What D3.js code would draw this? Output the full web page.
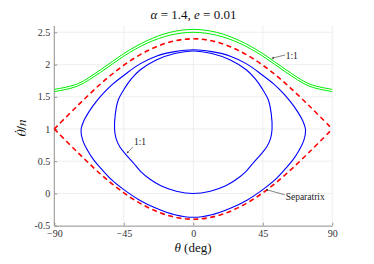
<!DOCTYPE html>
<html><head><meta charset="utf-8">
<script src="https://cdn.jsdelivr.net/npm/d3@7"></script>
<style>body{margin:0;background:#fff}svg{display:block}svg text{font-family:"Liberation Serif","Times New Roman",serif}</style>
</head><body><svg id="c" width="374" height="264"></svg>
<script>
// ---- data ----
const xTicks = [-90, -45, 0, 45, 90];
const yTicks = [-0.5, 0, 0.5, 1, 1.5, 2, 2.5];
const yTickLabels = ["-0.5", "0", "0.5", "1", "1.5", "2", "2.5"];
const theta = [-90, -75, -60, -45, -30, -15, 0, 15, 30, 45, 60, 75, 90];
const sepUpper = [1.0, 1.36, 1.70, 1.99, 2.21, 2.35, 2.40, 2.35, 2.21, 1.99, 1.70, 1.36, 1.0];
const sepLower = [1.0, 0.64, 0.30, 0.01, -0.21, -0.35, -0.40, -0.35, -0.21, 0.01, 0.30, 0.64, 1.0];
const greenUpper = [1.615, 1.70, 1.92, 2.17, 2.37, 2.50, 2.545, 2.50, 2.37, 2.17, 1.92, 1.70, 1.615];
const greenLower = [1.58, 1.665, 1.88, 2.13, 2.33, 2.455, 2.50, 2.455, 2.33, 2.13, 1.88, 1.665, 1.58];
// outer 1:1 libration loop (theta deg, thetaDot/n), clockwise from top
const outerTheta = [0, 12, 24, 34.5, 44, 52, 58, 63, 67.5, 71, 72.7, 71.5, 68.5, 64.5, 59.5, 52.8, 45, 35, 24, 12,
                    0, -12, -24, -35, -45, -52.8, -59.5, -64.5, -68.5, -71.5, -72.7, -71, -67.5, -63, -58, -52, -44, -34.5, -24, -12];
const outerRate  = [2.23, 2.20, 2.13, 2.01, 1.85, 1.70, 1.56, 1.42, 1.27, 1.12, 0.98, 0.82, 0.67, 0.52, 0.38, 0.21, 0.06, -0.10, -0.23, -0.33,
                    -0.37, -0.33, -0.23, -0.10, 0.06, 0.21, 0.38, 0.52, 0.67, 0.82, 0.98, 1.12, 1.27, 1.42, 1.56, 1.70, 1.85, 2.01, 2.13, 2.20];
// inner 1:1 libration loop
const innerTheta = [0, 12, 24, 34.5, 40, 44.5, 48.6, 50.5, 51, 50, 47.5, 43.5, 39, 34, 28, 21, 11,
                    0, -11, -21, -28, -34, -39, -43.5, -47.5, -50, -51, -50.5, -48.6, -44.5, -40, -34.5, -24, -12];
const innerRate  = [2.21, 2.17, 2.07, 1.915, 1.78, 1.63, 1.45, 1.23, 1.0, 0.85, 0.72, 0.60, 0.48, 0.34, 0.22, 0.12, 0.035,
                    0.0, 0.035, 0.12, 0.22, 0.34, 0.48, 0.60, 0.72, 0.85, 1.0, 1.23, 1.45, 1.63, 1.78, 1.915, 2.07, 2.17];

// ---- layout ----
const svg = d3.select("#c");
const x = d3.scaleLinear().domain([-90, 90]).range([54.3, 332.3]);
const y = d3.scaleLinear().domain([-0.5, 2.5]).range([225.7, 32.3]);
const yTop = 2.6;
const serif = '"Liberation Serif","Times New Roman",serif';

// grid
const g = svg.append("g");
g.selectAll(".gx").data(xTicks).join("line")
  .attr("x1", d => x(d)).attr("x2", d => x(d)).attr("y1", y(-0.5)).attr("y2", y(yTop))
  .attr("stroke", "#ebebeb").attr("stroke-width", 0.8);
g.selectAll(".gy").data(yTicks).join("line")
  .attr("x1", x(-90)).attr("x2", x(90)).attr("y1", d => y(d)).attr("y2", d => y(d))
  .attr("stroke", "#ebebeb").attr("stroke-width", 0.8);

// axes
const axCol = "#808080";
const xAxis = d3.axisBottom(x).tickValues(xTicks).tickSizeInner(-3).tickSizeOuter(0).tickPadding(4).tickFormat(d3.format("d"));
const yAxis = d3.axisLeft(y).tickValues(yTicks).tickSizeInner(-3).tickSizeOuter(0).tickPadding(4)
  .tickFormat((d, i) => yTickLabels[i]);
const gx = svg.append("g").attr("transform", `translate(0,${y(-0.5)})`).call(xAxis);
const gy = svg.append("g").attr("transform", `translate(${x(-90)},0)`).call(yAxis);
gy.select(".domain").attr("d", `M0,${y(-0.5)}V${y(yTop)}`);
[gx, gy].forEach(a => {
  a.attr("font-family", serif);
  a.select(".domain").attr("stroke", axCol).attr("stroke-width", 0.8);
  a.selectAll(".tick line").attr("stroke", axCol).attr("stroke-width", 0.8);
  a.selectAll(".tick text").attr("font-family", serif).attr("font-size", 10).attr("fill", "#333");
});

// curves
const lineOpen = d3.line().x(d => x(d[0])).y(d => y(d[1])).curve(d3.curveCatmullRom.alpha(0.5));
const lineClosed = d3.line().x(d => x(d[0])).y(d => y(d[1])).curve(d3.curveCatmullRomClosed.alpha(0.5));
const zip = (a, b) => a.map((v, i) => [v, b[i]]);

const plot = svg.append("g");
[greenUpper, greenLower].forEach(s => {
  plot.append("path").attr("d", lineOpen(zip(theta, s))).attr("fill", "none")
    .attr("stroke", "#00ee00").attr("stroke-width", 1);
});
plot.append("path").attr("d", lineClosed(zip(outerTheta, outerRate))).attr("fill", "none")
  .attr("stroke", "#0000ff").attr("stroke-width", 1.1);
plot.append("path").attr("d", lineClosed(zip(innerTheta, innerRate))).attr("fill", "none")
  .attr("stroke", "#0000ff").attr("stroke-width", 1.1);
[sepUpper, sepLower].forEach(s => {
  plot.append("path").attr("d", lineOpen(zip(theta, s))).attr("fill", "none")
    .attr("stroke", "#ff0000").attr("stroke-width", 1.6).attr("stroke-dasharray", "5,3.5");
});

// annotations (text arrows), positions in data coords
const annotations = [
  {label: "1:1", tail: [59.4, 2.148], tip: [50.8, 2.097], tx: [59.8, 2.09]},
  {label: "1:1", tail: [-39.1, 0.72], tip: [-43.1, 0.624], tx: [-38.4, 0.753]},
  {label: "Separatrix", tail: [59.2, -0.02], tip: [47.1, 0.06], tx: [59.8, -0.095]}
];
svg.append("defs").append("marker").attr("id", "ah").attr("viewBox", "0 0 10 10")
  .attr("refX", 9).attr("refY", 5).attr("markerWidth", 4).attr("markerHeight", 4).attr("orient", "auto")
  .append("path").attr("d", "M0,1L10,5L0,9z").attr("fill", "#333");
annotations.forEach(a => {
  svg.append("line").attr("x1", x(a.tail[0])).attr("y1", y(a.tail[1]))
    .attr("x2", x(a.tip[0])).attr("y2", y(a.tip[1]))
    .attr("stroke", "#333").attr("stroke-width", 0.6).attr("marker-end", "url(#ah)");
  svg.append("text").attr("x", x(a.tx[0])).attr("y", y(a.tx[1]))
    .attr("font-size", 9.5).attr("fill", "#222").text(a.label);
});

// title & labels
const title = svg.append("text").attr("x", 193.5).attr("y", 18.5).attr("text-anchor", "middle")
  .attr("font-size", 13).attr("fill", "#111");
title.append("tspan").attr("font-style", "italic").text("α");
title.append("tspan").text(" = 1.4, ");
title.append("tspan").attr("font-style", "italic").text("e");
title.append("tspan").text(" = 0.01");

const xl = svg.append("text").attr("x", 193).attr("y", 252).attr("text-anchor", "middle")
  .attr("font-size", 13).attr("fill", "#111");
xl.append("tspan").attr("font-style", "italic").text("θ");
xl.append("tspan").text(" (deg)");

const yl = svg.append("text").attr("transform", "translate(26,128) rotate(-90)").attr("text-anchor", "middle")
  .attr("font-size", 13.5).attr("fill", "#111").style("font-family", '"FreeSerif","Liberation Serif",serif');
yl.append("tspan").attr("font-style", "italic").text("θ\u0307");
yl.append("tspan").text("/");
yl.append("tspan").attr("font-style", "italic").text("n");
</script></body></html>
